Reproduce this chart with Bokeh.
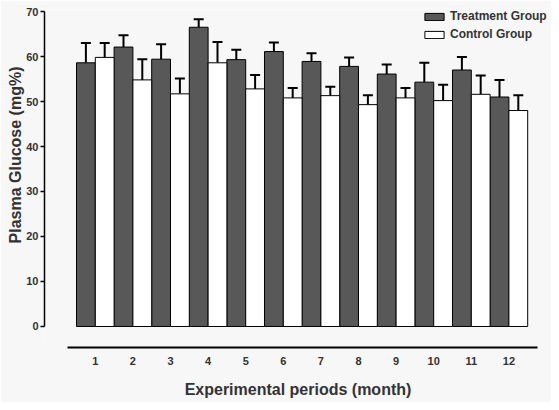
from bokeh.plotting import figure
from bokeh.models import (ColumnDataSource, FixedTicker, Whisker, TeeHead, Legend,
                          LegendItem, Range1d, Title)
from bokeh.embed import file_html
from bokeh.resources import INLINE

months = [1, 2, 3, 4, 5, 6, 7, 8, 9, 10, 11, 12]
month_labels = ["1", "2", "3", "4", "5", "6", "7", "8", "9", "10", "11", "12"]
treatment = [58.6, 62.1, 59.4, 66.5, 59.3, 61.1, 58.9, 57.8, 56.1, 54.3, 57.0, 51.0]
treatment_err = [4.4, 2.6, 3.3, 1.8, 2.2, 2.0, 1.8, 2.0, 2.1, 4.3, 2.9, 3.8]
control = [59.8, 54.8, 51.7, 58.6, 52.8, 50.8, 51.3, 49.3, 50.8, 50.2, 51.6, 48.0]
control_err = [3.2, 4.6, 3.4, 4.6, 3.1, 2.2, 2.0, 2.1, 2.2, 3.5, 4.2, 3.4]

FONT = "Liberation Sans"
BG = "#f7f7f7"
DARK = "#585858"
TXT = "#333333"

xt = [m - 0.25 for m in months]
xc = [m + 0.25 for m in months]

src_t = ColumnDataSource(dict(x=xt, top=treatment,
                              upper=[v + e for v, e in zip(treatment, treatment_err)]))
src_c = ColumnDataSource(dict(x=xc, top=control,
                              upper=[v + e for v, e in zip(control, control_err)]))

p = figure(width=551, height=402, output_backend="svg", toolbar_location=None,
           x_range=Range1d(-0.351, 13.133), y_range=Range1d(-4.667, 70.667),
           min_border_left=44, min_border_right=0, min_border_top=8,
           min_border_bottom=55, background_fill_color=BG, border_fill_color=BG,
           outline_line_color=None)
p.xgrid.visible = False
p.ygrid.visible = False

rt = p.vbar(x="x", top="top", bottom=0, width=0.5, source=src_t,
            fill_color=DARK, line_color="black", line_width=1)
rc = p.vbar(x="x", top="top", bottom=0, width=0.5, source=src_c,
            fill_color="white", line_color="black", line_width=1)

for src in (src_t, src_c):
    w = Whisker(base="x", lower="top", upper="upper", source=src,
                line_color="black", line_width=2,
                upper_head=TeeHead(size=10, line_color="black", line_width=2),
                lower_head=None)
    p.add_layout(w)

# y axis
ya = p.yaxis[0]
ya.ticker = FixedTicker(ticks=[0, 10, 20, 30, 40, 50, 60, 70])
ya.bounds = (0, 70)
ya.axis_line_width = 1.5
ya.major_tick_line_width = 1.5
ya.major_tick_out = 4
ya.major_tick_in = 0
ya.minor_tick_line_color = None
ya.major_label_standoff = 2
ya.major_label_text_font = FONT
ya.major_label_text_font_style = "bold"
ya.major_label_text_font_size = "11px"
ya.major_label_text_color = TXT

# x axis
xa = p.xaxis[0]
xa.ticker = FixedTicker(ticks=months)
xa.major_label_overrides = {m: l for m, l in zip(months, month_labels)}
xa.bounds = (0.26, 12.76)
xa.axis_line_width = 1.8
xa.major_tick_line_color = None
xa.major_tick_out = 0
xa.major_tick_in = 0
xa.minor_tick_line_color = None
xa.major_label_standoff = 9
xa.major_label_text_font = FONT
xa.major_label_text_font_style = "bold"
xa.major_label_text_font_size = "11px"
xa.major_label_text_color = TXT
xa.axis_label = "Experimental periods (month)"
xa.axis_label_text_font = FONT
xa.axis_label_text_font_style = "bold"
xa.axis_label_text_font_size = "16px"
xa.axis_label_text_color = TXT
xa.axis_label_standoff = 13

# y title, placed toward the top like the reference
p.add_layout(Title(text="Plasma Glucose (mg%)", align="right", offset=58,
                   standoff=0, text_font=FONT, text_font_style="bold",
                   text_font_size="16px", text_color=TXT), "left")

legend = Legend(items=[LegendItem(label="Treatment Group", renderers=[rt]),
                       LegendItem(label="Control Group", renderers=[rc])],
                location=(378, 306), orientation="vertical",
                glyph_width=24, glyph_height=9, label_height=14, spacing=4,
                label_standoff=4, padding=0, margin=0,
                border_line_color=None, background_fill_alpha=0,
                label_text_font=FONT, label_text_font_style="bold",
                label_text_font_size="12px", label_text_color=TXT)
p.add_layout(legend)

open("out.html", "w").write(file_html(p, INLINE))
